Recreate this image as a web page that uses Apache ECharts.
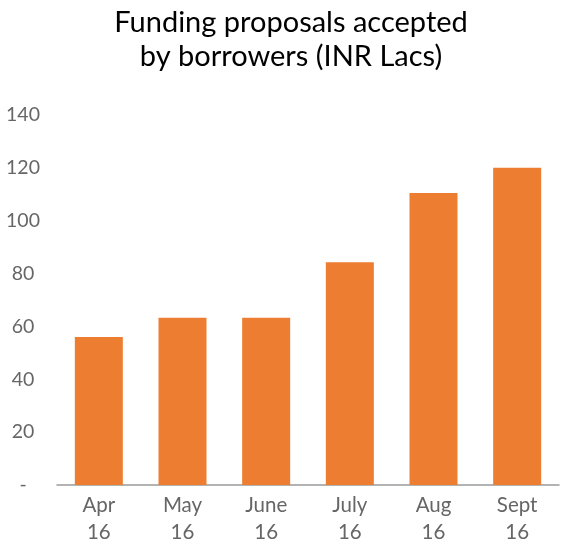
<!DOCTYPE html>
<html><head><meta charset="utf-8">
<script src="https://cdn.jsdelivr.net/npm/echarts@6/dist/echarts.min.js"></script>
<style>html,body{margin:0;padding:0;background:#fff}#c{width:562px;height:551px}</style>
</head><body><div id="c"></div>
<script>
const categories = ['Apr\n16','May\n16','June\n16','July\n16','Aug\n16','Sept\n16'];
const values = [56, 63.3, 63.3, 84.3, 110.5, 120];
const yTicks = [0,20,40,60,80,100,120,140];
const chart = echarts.init(document.getElementById('c'));
chart.setOption({
  animation:false,
  title:{text:'Funding proposals accepted\nby borrowers (INR Lacs)',left:286,top:1,textAlign:'center',
    textStyle:{fontFamily:'Lato',fontSize:29,fontWeight:'normal',color:'#000',lineHeight:34}},
  grid:{left:57,right:3,top:115,bottom:66},
  xAxis:{type:'category',data:categories,
    axisLine:{lineStyle:{color:'#9a9a9a',width:1.5}},axisTick:{show:false},
    axisLabel:{fontFamily:'Lato',fontSize:20.5,color:'#666',lineHeight:27,margin:7}},
  yAxis:{type:'value',min:0,max:140,interval:20,
    axisLine:{show:false},axisTick:{show:false},splitLine:{show:false},
    axisLabel:{fontFamily:'Lato',fontSize:19.5,color:'#666',align:'center',margin:34,
      formatter:v=>yTicks.indexOf(v)===0?'-':String(v)}},
  series:[{type:'bar',data:values,barWidth:48,itemStyle:{color:'#ED7D31'}}]
});
</script></body></html>
